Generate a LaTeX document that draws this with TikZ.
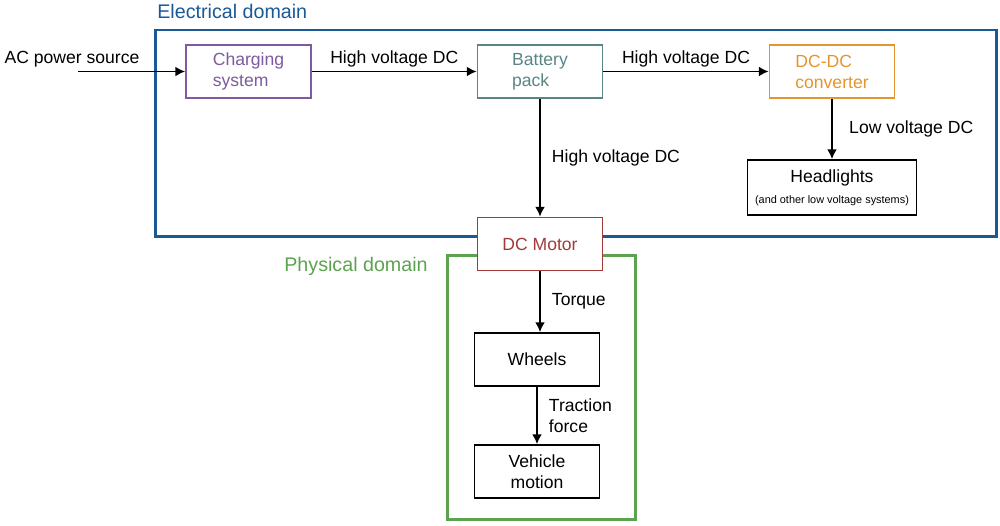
\documentclass[tikz,border=0pt]{standalone}
\usepackage{fontspec}
\setmainfont{Liberation Sans}
\usetikzlibrary{arrows.meta}
\definecolor{elecblue}{HTML}{1A5896}
\definecolor{physgreen}{HTML}{5BA34F}
\definecolor{chargepurple}{HTML}{7E5A9E}
\definecolor{batteal}{HTML}{5A8585}
\definecolor{convorange}{HTML}{E6952E}
\definecolor{motorred}{HTML}{A33A3A}
\tikzstyle{block}=[draw, line width=1pt, fill=white, minimum width=2.5cm, minimum height=1.06cm, align=left, inner sep=2pt]
\tikzstyle{domain box}=[line width=1.7pt]
\tikzstyle{domain label}=[anchor=west, inner sep=0pt, font=\fontsize{11.2}{13}\selectfont]
\tikzstyle{flow}=[->, line width=.95pt]
\tikzstyle{flow label}=[right, xshift=3pt, align=left]
\tikzstyle{flow above}=[midway, above, inner sep=2.2pt]

\begin{document}
\begin{tikzpicture}[>={Latex[length=5.5pt,width=5.5pt]}]
    \useasboundingbox (0,0) rectangle (20,-10.5);

    % Domains
    \draw[domain box,elecblue] (3.11,-.6) rectangle (19.93,-4.73);
    \draw[domain box,physgreen] (8.95,-5.1) rectangle (12.7,-10.39);
    \draw (3.14,-.22) node[domain label,text=elecblue] (elec) {Electrical domain};
    \draw (5.68,-5.33) node[domain label,text=physgreen] (phys) {Physical domain};

    % Blocks
    \draw (4.97,-1.43) node[block,draw=chargepurple,text=chargepurple] (charging) {Charging\\system};
    \draw (10.8,-1.43) node[block,draw=batteal,text=batteal] (battery) {Battery\\pack};
    \draw (16.64,-1.43) node[block,draw=convorange,text=convorange] (dcdc) {DC-DC\\converter};
    \draw (16.64,-3.75) node[block,minimum width=3.38cm,minimum height=1.1cm,align=center] (headlights) {Headlights\\{\fontsize{6.2}{7.5}\selectfont (and other low voltage systems)}};
    \draw (10.8,-4.88) node[block,draw=motorred,text=motorred,align=center] (motor) {DC Motor};
    \draw (10.74,-7.19) node[block,align=center] (wheels) {Wheels};
    \draw (10.74,-9.43) node[block,align=center] (vehicle) {Vehicle\\motion};

    % Flows
    \coordinate (ac) at (1.56,-1.43);
    \draw[flow] (ac) -- (charging) node[pos=0,above,inner sep=2.2pt,xshift=-.12cm] (acsource) {AC power source};
    \draw[flow] (charging) -- (battery) node[flow above] {High voltage DC};
    \draw[flow] (battery) -- (dcdc) node[flow above] {High voltage DC};
    \draw[flow] (dcdc) -- (headlights) node[midway,flow label,xshift=3pt] {Low voltage DC};
    \draw[flow] (battery) -- (motor) node[midway,flow label] {High voltage DC};
    \draw[flow] (motor.south) -- (motor.south |- wheels.north) node[midway,flow label] {Torque};
    \draw[flow] (wheels) -- (vehicle) node[midway,flow label] {Traction\\force};

\end{tikzpicture}
\end{document}
